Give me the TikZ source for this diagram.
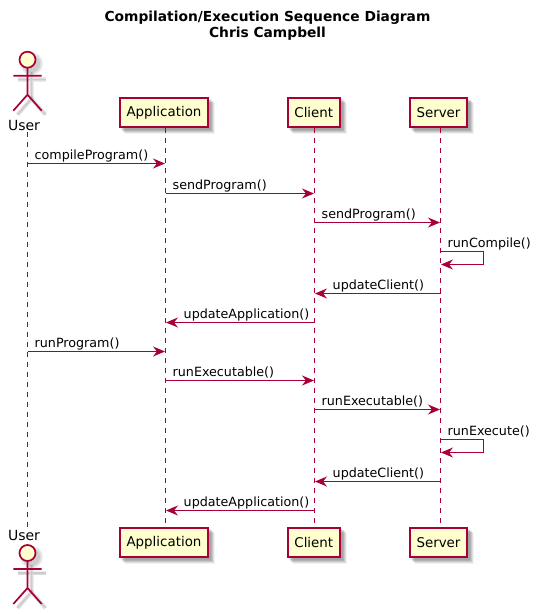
\documentclass[tikz,border=0pt]{standalone}
\usepackage{fontspec}
\setmainfont{DejaVu Sans}
\usetikzlibrary{arrows.meta,calc,backgrounds}
\definecolor{puml}{HTML}{A80036}
\definecolor{pfill}{HTML}{FEFECE}
\tikzset{
  part/.style={draw=puml,fill=pfill,line width=2pt,minimum height=29.6pt,inner sep=0pt,font=\fontsize{13.4}{15}\selectfont,text=black},
  actorname/.style={inner sep=0pt,minimum height=13pt,font=\fontsize{14}{16}\selectfont,text=black},
  lifeline/.style={draw=puml,line width=1pt,dash pattern=on 5pt off 5pt},
  msg/.style={draw=puml,line width=1pt,-{Stealth[length=12pt,width=10pt,inset=4pt,color=puml]},shorten >=0.5pt},
  label/.style={anchor=base west,inner sep=0pt,font=\fontsize{12.7}{15}\selectfont,text=black},
  actorline/.style={draw=puml,line width=1.7pt},
  actorshadow/.style={draw=black,line width=#1,opacity=.07},
  titletext/.style={inner sep=0pt,align=center,font=\bfseries\fontsize{13.8}{16.5}\selectfont,text=black}
}
\newcommand{\actorfig}[2]{%
  \foreach \w in {4.5,3,1.5}{
    \draw[actorshadow=\w pt] (#1+4,#2+12) -- ++(0,27) (#1-14+4,#2+16+4) -- ++(28,0);
    \draw[actorshadow=\w pt] (#1-14+4,#2+51+4) -- ++(14,-16) -- ++(14,16);
    \fill[black,opacity=.07] (#1+4,#2+4) circle (7+\w);
  }
  \draw[actorline,fill=pfill] (#1,#2) circle (8);
  \draw[actorline] (#1,#2+8) -- ++(0,27) (#1-14.2,#2+16) -- ++(28.4,0) (#1-14.2,#2+51) -- ++(14.2,-16) -- ++(14.2,16);
}
\begin{document}
\begin{tikzpicture}[x=1pt,y=-1pt]
\useasboundingbox (0,0) rectangle (541,614);
\node[titletext] (title) at (267.5,25.5) {Compilation/Execution Sequence Diagram\\Chris Campbell};

% participants, top
\node[actorname] (Utop) at (24,125) {User};
\node[part,minimum width=88.6pt] (Atop) at (164,112.5) {Application};
\node[part,minimum width=51.6pt] (Ctop) at (313.8,112.5) {Client};
\node[part,minimum width=57.6pt] (Stop) at (438.5,112.5) {Server};
% participants, bottom
\node[actorname] (Ubot) at (24,535) {User};
\node[part,minimum width=88.6pt] (Abot) at (164,542.5) {Application};
\node[part,minimum width=51.6pt] (Cbot) at (313.8,542.5) {Client};
\node[part,minimum width=57.6pt] (Sbot) at (438.5,542.5) {Server};

\begin{scope}[on background layer]
  \fill[white] (0,0) rectangle (541,614);
  \foreach \n in {Atop,Ctop,Stop,Abot,Cbot,Sbot}{
    \foreach \o/\a in {2/.08,3/.1,4/.1,5/.08,6/.05}{
      \fill[black,opacity=\a] ($(\n.north west)+(\o,\o)$) rectangle ($(\n.south east)+(\o,\o)$);
    }
  }
\end{scope}

\coordinate (U) at (27.5,0);
\coordinate (A) at (165.5,0);
\coordinate (C) at (314.5,0);
\coordinate (S) at (440.5,0);

\draw[lifeline] (U |- Utop.south) -- (U |- Ubot.north);
\draw[lifeline] (A |- Atop.south) -- (A |- Abot.north);
\draw[lifeline] (C |- Ctop.south) -- (C |- Cbot.north);
\draw[lifeline] (S |- Stop.south) -- (S |- Sbot.north);

\actorfig{27.5}{59.7}
\actorfig{27.5}{553}

\foreach \n/\y in {r1/163.5,r2/193.5,r3/222.5,r4/251.5,r4b/264.5,r5/293.5,r6/322.5,r7/351.5,r8/380.5,r9/409.5,r10/439.5,r10b/452.5,r11/481.5,r12/510.5}{
  \coordinate (\n) at (0,\y);
}

\draw[msg] (U |- r1) -- (A |- r1);
\node[label] (m1) at ($(U |- r1)+(7,-4)$) {compileProgram()};
\draw[msg] (A |- r2) -- (C |- r2);
\node[label] (m2) at ($(A |- r2)+(7,-4)$) {sendProgram()};
\draw[msg] (C |- r3) -- (S |- r3);
\node[label] (m3) at ($(C |- r3)+(7,-4)$) {sendProgram()};
\draw[msg] (S |- r4) -- ++(43,0) |- (S |- r4b);
\node[label] (m4) at ($(S |- r4)+(7,-4)$) {runCompile()};
\draw[msg] (S |- r5) -- (C |- r5);
\node[label] (m5) at ($(C |- r5)+(18,-4.5)$) {updateClient()};
\draw[msg] (C |- r6) -- (A |- r6);
\node[label] (m6) at ($(A |- r6)+(18,-4)$) {updateApplication()};
\draw[msg] (U |- r7) -- (A |- r7);
\node[label] (m7) at ($(U |- r7)+(7,-4)$) {runProgram()};
\draw[msg] (A |- r8) -- (C |- r8);
\node[label] (m8) at ($(A |- r8)+(7,-4)$) {runExecutable()};
\draw[msg] (C |- r9) -- (S |- r9);
\node[label] (m9) at ($(C |- r9)+(7,-4)$) {runExecutable()};
\draw[msg] (S |- r10) -- ++(43,0) |- (S |- r10b);
\node[label] (m10) at ($(S |- r10)+(7,-4)$) {runExecute()};
\draw[msg] (S |- r11) -- (C |- r11);
\node[label] (m11) at ($(C |- r11)+(18,-4.5)$) {updateClient()};
\draw[msg] (C |- r12) -- (A |- r12);
\node[label] (m12) at ($(A |- r12)+(18,-4.5)$) {updateApplication()};
\end{tikzpicture}
\end{document}
